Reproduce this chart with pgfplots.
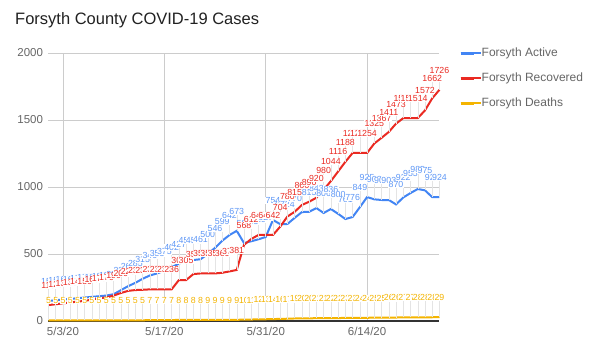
\documentclass[border=0pt]{standalone}
\usepackage{fontspec}
\setmainfont{Liberation Sans}
\usepackage{pgfplots}
\pgfplotsset{compat=1.18}
\usepackage{pgfplotstable}
\usetikzlibrary{calc}
\definecolor{gblue}{HTML}{4285F4}
\definecolor{gred}{HTML}{EA2A22}
\definecolor{gyellow}{HTML}{F4B400}
\definecolor{gridc}{HTML}{CCCCCC}
\definecolor{labc}{HTML}{666666}
\definecolor{leadc}{HTML}{E4E4E4}

\pgfplotstableread{
d act rec dth
0 150 119 5
1 155 125 5
2 160 132 5
3 165 138 5
4 170 145 5
5 175 150 5
6 180 160 5
7 185 170 5
8 190 176 5
9 200 190 5
10 230 209 5
11 260 225 5
12 285 231 5
13 315 233 5
14 340 236 7
15 355 236 7
16 375 236 7
17 402 236 7
18 427 305 8
19 455 305 8
20 455 350 8
21 461 355 8
22 500 355 9
23 546 355 9
24 599 360 9
25 642 370 9
26 673 381 9
27 582 568 10
28 595 612 11
29 610 642 12
30 627 642 13
31 754 642 14
32 723 704 16
33 724 780 17
34 770 815 19
35 813 866 20
36 815 890 20
37 843 920 21
38 806 980 21
39 836 1044 22
40 800 1116 22
41 761 1188 23
42 776 1254 23
43 849 1254 24
44 925 1254 24
45 908 1325 25
46 903 1367 25
47 903 1411 26
48 870 1473 26
49 922 1514 27
50 955 1514 27
51 985 1514 28
52 975 1572 28
53 924 1662 28
54 924 1726 29
}\data

\begin{document}
\begin{tikzpicture}
\begin{axis}[
  name=A, anchor=south west,
  scale only axis, width=391pt, height=268pt,
  xmin=0, xmax=54, ymin=0, ymax=2000,
  xtick={2,16,30,44}, xticklabels={5/3/20,5/17/20,5/31/20,6/14/20},
  ytick={0,500,1000,1500,2000},
  grid=major, grid style={gridc, line width=0.6pt},
  axis line style={draw=none}, tick style={draw=none},
  tick label style={font=\fontsize{11.5}{13}\selectfont, text=labc},
  xticklabel style={yshift=-3pt},
  yticklabel style={xshift=-2pt},
  /pgf/number format/assume math mode=true,
  /pgf/number format/1000 sep={},
  clip=false,
  legend style={draw=none, fill=none, at={(rel axis cs:1,1)}, anchor=north west,
    xshift=19.5pt, yshift=6pt, inner sep=0pt, row sep=13pt,
    font=\fontsize{12}{14}\selectfont, text=labc,
    nodes={inner sep=0pt, text height=9pt, text depth=3pt}},
  legend cell align=left,
  legend image code/.code={\draw[line width=3pt] (0pt,0pt) -- (13pt,0pt); \path (0pt,0pt) -- (20pt,0pt);},
  nodes near coords style={font=\fontsize{8.8}{9}\selectfont, anchor=south, yshift=16pt, fill=white, inner sep=0.3pt},
]
\draw[black!80, line width=1.2pt] (axis cs:0,0) -- (axis cs:54,0);
\addplot[gblue, line width=2pt] table[x=d, y=act] {\data};
\addlegendentry{Forsyth Active}
\addplot[gred, line width=2pt] table[x=d, y=rec] {\data};
\addlegendentry{Forsyth Recovered}
\addplot[gyellow, line width=2pt] table[x=d, y=dth] {\data};
\addlegendentry{Forsyth Deaths}
% labels with leader lines
\addplot[draw=none, mark=none, forget plot, nodes near coords, every node near coord/.append style={text=gblue!85},
  error bars/.cd, y dir=plus, y fixed=119, error mark=none, error bar style={draw=leadc, line width=0.5pt}]
  table[x=d, y=act] {\data};
\addplot[draw=none, mark=none, forget plot, nodes near coords, every node near coord/.append style={text=gred},
  error bars/.cd, y dir=plus, y fixed=119, error mark=none, error bar style={draw=leadc, line width=0.5pt}]
  table[x=d, y=rec] {\data};
\addplot[draw=none, mark=none, forget plot, nodes near coords, every node near coord/.append style={text=gyellow},
  error bars/.cd, y dir=plus, y fixed=119, error mark=none, error bar style={draw=leadc, line width=0.5pt}]
  table[x=d, y=dth] {\data};
\end{axis}
\node[anchor=base west, font=\fontsize{16.5}{19}\selectfont, text=black!87, inner sep=0pt] at ($(A.south west)+(-33.5pt,296pt)$) {Forsyth County COVID-19 Cases};
\pgfresetboundingbox
\path[use as bounding box] ($(A.south west)+(-48.5pt,-33pt)$) rectangle ++(607pt,354pt);
\end{tikzpicture}
\end{document}
